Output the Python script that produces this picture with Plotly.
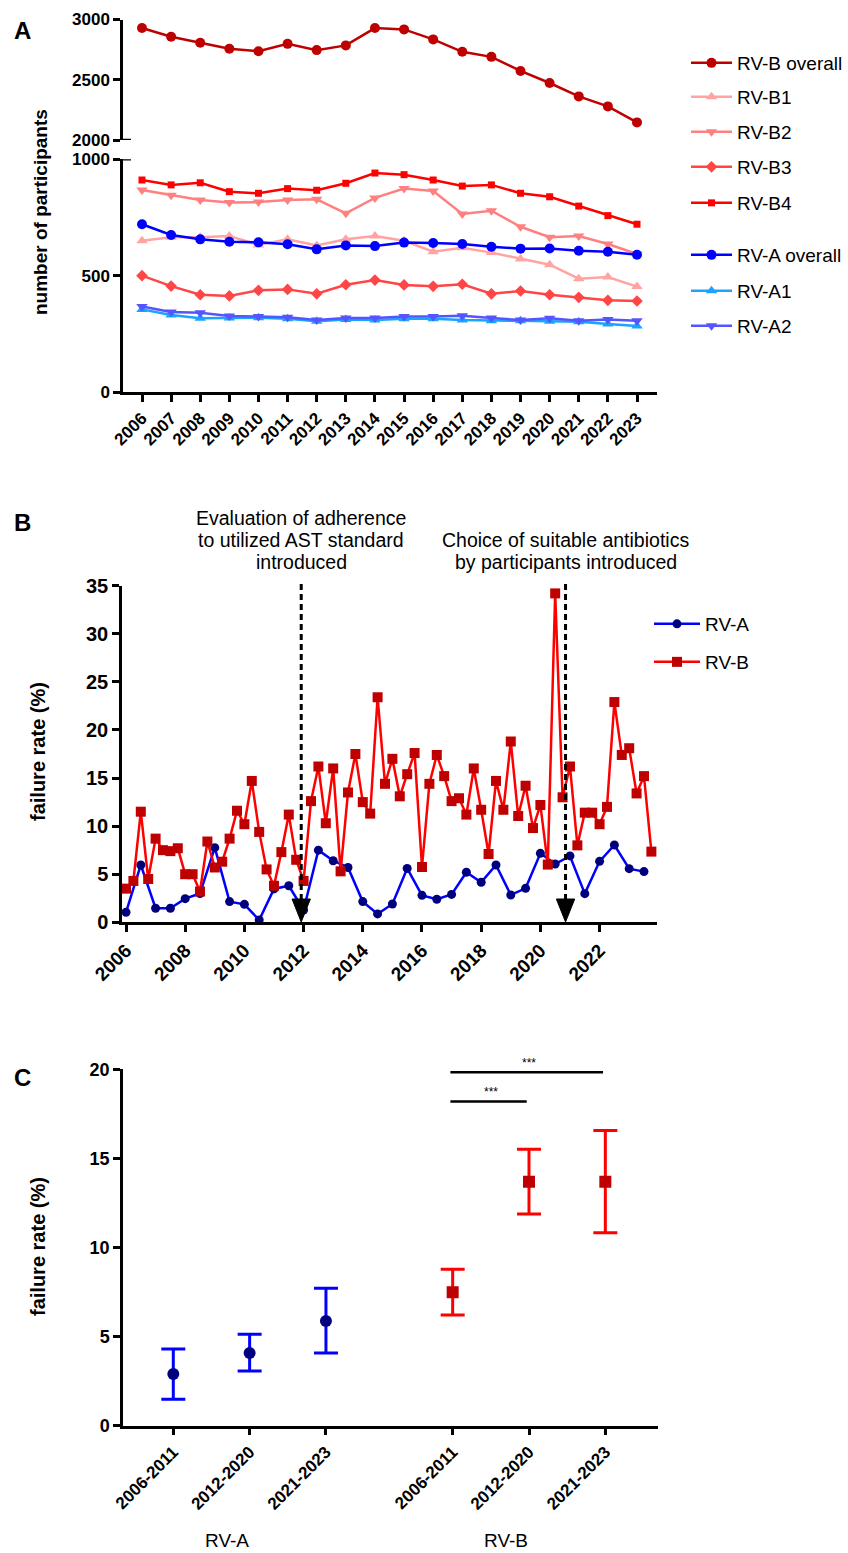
import plotly.graph_objects as go
import numpy as np

W, H = 848, 1553
FONT = "Arial, Liberation Sans, sans-serif"

# ---------------- Panel A data ----------------
years = list(range(2006, 2024))
rvb_overall = [2930, 2857, 2807, 2757, 2737, 2798, 2746, 2785, 2929, 2918,
               2835, 2732, 2690, 2573, 2473, 2362, 2279, 2146]
rvb1 = [650, 665, 665, 670, 632, 656, 630, 656, 670, 650, 603, 620, 599, 572, 547, 487, 494, 453]
rvb2 = [868, 845, 825, 814, 816, 825, 828, 768, 834, 874, 864, 765, 779, 710, 665, 670, 636, 593]
rvb3 = [500, 455, 418, 413, 437, 441, 422, 461, 481, 460, 454, 463, 422, 434, 418, 407, 394, 391]
rvb4 = [911, 890, 899, 861, 854, 874, 867, 897, 941, 934, 911, 885, 890, 854, 839, 799, 758, 721]
rva_overall = [721, 675, 656, 646, 643, 635, 613, 630, 627, 642, 640, 636, 624, 616, 617, 607, 603, 590]
rva1 = [355, 331, 317, 318, 319, 315, 304, 312, 309, 315, 315, 309, 306, 306, 304, 302, 292, 284]
rva2 = [367, 344, 341, 327, 324, 321, 309, 318, 318, 324, 324, 328, 318, 309, 317, 306, 312, 306]

# ---------------- Panel B data ----------------
rvb_rate = [3.5, 4.3, 11.5, 4.5,
            8.7, 7.5, 7.4, 7.7,
            5.0, 5.0, 3.2, 8.4,
            5.7, 6.3, 8.7, 11.6,
            10.2, 14.7, 9.4, 5.5,
            3.8, 7.3, 11.2, 6.5,
            4.3, 12.6, 16.2, 10.3,
            16.0, 5.3, 13.5, 17.5,
            12.5, 11.3, 23.4, 14.4,
            17.0, 13.1, 15.4, 17.6,
            5.75, 14.4, 17.4, 15.2,
            12.6, 12.9, 11.2, 16.0,
            11.7, 7.1, 14.7, 11.7,
            18.8, 11.05, 14.2, 9.8,
            12.2, 6.0, 34.2, 13.0,
            16.2, 8.0, 11.4, 11.4,
            10.2, 12.0, 22.9, 17.4,
            18.1, 13.4, 15.2, 7.35]
rva_rate = [1.04, 5.96, 1.46, 1.46, 2.46, 3.0, 7.76, 2.15, 1.87, 0.24,
            3.47, 3.8, 1.28, 7.5, 6.4, 5.7, 2.15, 0.87, 1.9, 5.6,
            2.8, 2.4, 2.9, 5.2, 4.16, 5.96, 2.84, 3.53, 7.17, 6.06,
            6.9, 2.98, 6.34, 8.04, 5.58, 5.27]
rvb_time = [2006 + q / 4 for q in range(len(rvb_rate))]   # quarterly rounds
rva_time = [2006 + h / 2 for h in range(len(rva_rate))]   # half-yearly rounds
event_years = [2011.92, 2020.85]
event_lines = [["Evaluation of adherence", "to utilized AST standard", "introduced"],
               ["Choice of suitable antibiotics", "by participants introduced"]]
b_ticks = list(range(2006, 2023, 2))

# ---------------- Panel C data ----------------
periods = ["2006-2011", "2012-2020", "2021-2023"]
rva_mean = [2.9, 4.08, 5.88]
rva_low = [1.48, 3.07, 4.08]
rva_high = [4.3, 5.13, 7.71]
rvb_mean = [7.49, 13.69, 13.69]
rvb_low = [6.21, 11.88, 10.83]
rvb_high = [8.78, 15.51, 16.56]
pos_a = [1, 2, 3]
pos_b = [4.66, 5.66, 6.66]
sig_bars = [(4.66, 6.66, 19.83, "***"), (4.66, 5.66, 18.2, "***")]


def px(p):
    return p / W


def py(p):
    return 1 - p / H


fig = go.Figure()

# Panel A traces
seriesA = [
    ("RV-B overall", rvb_overall, "#BF0000", "circle", 10, "y2"),
    ("RV-B1", rvb1, "#FFA3A3", "triangle-up", 10, "y"),
    ("RV-B2", rvb2, "#FF8080", "triangle-down", 10, "y"),
    ("RV-B3", rvb3, "#FF4545", "diamond", 9, "y"),
    ("RV-B4", rvb4, "#FF0000", "square", 7, "y"),
    ("RV-A overall", rva_overall, "#0000FF", "circle", 10, "y"),
    ("RV-A1", rva1, "#1AA3FF", "triangle-up", 10, "y"),
    ("RV-A2", rva2, "#5555FF", "triangle-down", 10, "y"),
]
legend_rows_A = [63, 97, 132, 167, 203, 255, 291, 326]
draw_order = [1, 2, 3, 4, 6, 7, 5, 0]
legend_names = ["legend"] + [f"legend{k}" for k in range(2, 11)]
for i in draw_order:
    name, vals, col, sym, size, yax = seriesA[i]
    fig.add_trace(go.Scatter(
        x=years, y=vals, name=name, mode="lines+markers", xaxis="x", yaxis=yax,
        line=dict(color=col, width=2.5), marker=dict(color=col, symbol=sym, size=size),
        legend=legend_names[i], cliponaxis=False))

# Panel B traces
fig.add_trace(go.Scatter(x=rva_time, y=rva_rate, name="RV-A", mode="lines+markers",
                         xaxis="x2", yaxis="y3", line=dict(color="#0000FF", width=2.5),
                         marker=dict(color="#00007F", symbol="circle", size=9),
                         legend="legend9", cliponaxis=False))
fig.add_trace(go.Scatter(x=rvb_time, y=rvb_rate, name="RV-B", mode="lines+markers",
                         xaxis="x2", yaxis="y3", line=dict(color="#FF0000", width=2.5),
                         marker=dict(color="#BF0000", symbol="square", size=10),
                         legend="legend10", cliponaxis=False))

# Panel C traces
fig.add_trace(go.Scatter(
    x=pos_a, y=rva_mean, mode="markers", xaxis="x3", yaxis="y4", showlegend=False,
    marker=dict(color="#00007F", symbol="circle", size=12),
    error_y=dict(type="data", symmetric=False,
                 array=[h - m for h, m in zip(rva_high, rva_mean)],
                 arrayminus=[m - l for m, l in zip(rva_mean, rva_low)],
                 color="#0000FF", thickness=3, width=12),
    cliponaxis=False))
fig.add_trace(go.Scatter(
    x=pos_b, y=rvb_mean, mode="markers", xaxis="x3", yaxis="y4", showlegend=False,
    marker=dict(color="#BF0000", symbol="square", size=12),
    error_y=dict(type="data", symmetric=False,
                 array=[h - m for h, m in zip(rvb_high, rvb_mean)],
                 arrayminus=[m - l for m, l in zip(rvb_mean, rvb_low)],
                 color="#FF0000", thickness=3, width=12),
    cliponaxis=False))

axis_common = dict(showline=True, linecolor="black", linewidth=2.5, ticks="outside",
                   ticklen=7, tickwidth=2.5, tickcolor="black", showgrid=False,
                   zeroline=False, automargin=False, fixedrange=True)

layout = dict(
    width=W, height=H, margin=dict(l=0, r=0, t=0, b=0),
    paper_bgcolor="white", plot_bgcolor="white",
    font=dict(family=FONT, color="black"),
    xaxis=dict(domain=[px(123), px(657)], range=[2005.3475, 2023.687], anchor="y",
               tickvals=years, ticktext=[str(y) for y in years], tickangle=-45,
               tickfont=dict(size=17, weight="bold"), **axis_common),
    yaxis=dict(domain=[py(392), py(159.3)], range=[0, 1000], anchor="x",
               tickvals=[0, 500, 1000], tickfont=dict(size=17, weight="bold"), **axis_common),
    yaxis2=dict(domain=[py(140), py(19.5)], range=[2000, 3000], anchor="x",
                tickvals=[2000, 2500, 3000], tickfont=dict(size=17, weight="bold"), **axis_common),
    xaxis2=dict(domain=[px(122), px(657)], range=[2005.865, 2023.94], anchor="y3",
                tickvals=b_ticks, ticktext=[str(y) for y in b_ticks], tickangle=-45,
                tickfont=dict(size=19, weight="bold"), **axis_common),
    yaxis3=dict(domain=[py(922.3), py(585.7)], range=[0, 35], anchor="x2",
                tickvals=list(range(0, 36, 5)), tickfont=dict(size=20, weight="bold"), **axis_common),
    xaxis3=dict(domain=[px(123), px(658)], range=[0.341, 7.35], anchor="y4",
                tickvals=pos_a + pos_b, ticktext=periods + periods, tickangle=-45,
                tickfont=dict(size=17, weight="bold"), **axis_common),
    yaxis4=dict(domain=[py(1425.7), py(1069.3)], range=[0, 20], anchor="x3",
                tickvals=[0, 5, 10, 15, 20], tickfont=dict(size=18, weight="bold"), **axis_common),
)

# legends (one per entry so spacing matches)
legend_rows = legend_rows_A + [624, 662]
legend_x = [686] * 8 + [649] * 2
legend_itemw = [41] * 8 + [46] * 2
for k, (row, lx, iw) in enumerate(zip(legend_rows, legend_x, legend_itemw)):
    layout[legend_names[k]] = dict(x=px(lx), y=py(row), xanchor="left", yanchor="middle",
                                   xref="paper", yref="paper", bgcolor="rgba(0,0,0,0)",
                                   borderwidth=0, itemwidth=iw,
                                   font=dict(size=19, family=FONT, color="black"))
fig.update_layout(**layout)

shapes = []
# axis break marks
shapes.append(dict(type="line", xref="paper", yref="y2", x0=px(123), x1=px(131), y0=2000, y1=2000,
                   line=dict(color="black", width=2.5)))
shapes.append(dict(type="line", xref="paper", yref="y", x0=px(123), x1=px(131), y0=1000, y1=1000,
                   line=dict(color="black", width=2.5)))
# event markers panel B
for ex in event_years:
    shapes.append(dict(type="line", xref="x2", yref="paper", x0=ex, x1=ex,
                       y0=py(900), y1=py(580), line=dict(color="black", width=3, dash="6px,4px"),
                       layer="above"))
    hw = 0.31
    shapes.append(dict(type="path", xref="x2", yref="paper",
                       path=f"M{ex - hw},{py(899)} L{ex + hw},{py(899)} L{ex},{py(922)} Z",
                       fillcolor="black", line=dict(color="black", width=1), layer="above"))
# significance bars panel C
for a, b, yv, _ in sig_bars:
    shapes.append(dict(type="line", xref="x3", yref="y4", x0=a - 0.03, x1=b - 0.03, y0=yv, y1=yv,
                       line=dict(color="black", width=2.5)))
fig.update_layout(shapes=shapes)

ann = []
for lab, yy in [("A", 30), ("B", 522), ("C", 1077)]:
    ann.append(dict(text=lab, x=px(22), y=py(yy), xref="paper", yref="paper", showarrow=False,
                    xanchor="center", yanchor="middle", font=dict(size=24, weight="bold")))
for txt, xx, yy, fs in [("number of participants", 40, 212, 19), ("failure rate (%)", 38, 752, 20),
                        ("failure rate (%)", 38, 1247, 20)]:
    ann.append(dict(text=txt, x=px(xx), y=py(yy), xref="paper", yref="paper", showarrow=False,
                    textangle=-90, xanchor="center", yanchor="middle",
                    font=dict(size=fs, weight="bold")))
for ex, lines in zip(event_years, event_lines):
    n = len(lines)
    for j, line in enumerate(lines):
        ycen = 562 - 22 * (n - 1 - j)
        ann.append(dict(text=line, x=ex, y=py(ycen), xref="x2", yref="paper", showarrow=False,
                        xanchor="center", yanchor="middle", font=dict(size=19.5)))
for a, b, yv, s in sig_bars:
    ann.append(dict(text=s, x=(a + b) / 2, y=yv, xref="x3", yref="y4", showarrow=False,
                    xanchor="center", yanchor="bottom", font=dict(size=12)))
for grp, pos in [("RV-A", pos_a[1]), ("RV-B", pos_b[1])]:
    ann.append(dict(text=grp, x=pos, y=py(1540), xref="x3", yref="paper", showarrow=False,
                    xanchor="center", yanchor="middle", xshift=-23, font=dict(size=19)))
fig.update_layout(annotations=ann)

fig.write_html("out.html")
